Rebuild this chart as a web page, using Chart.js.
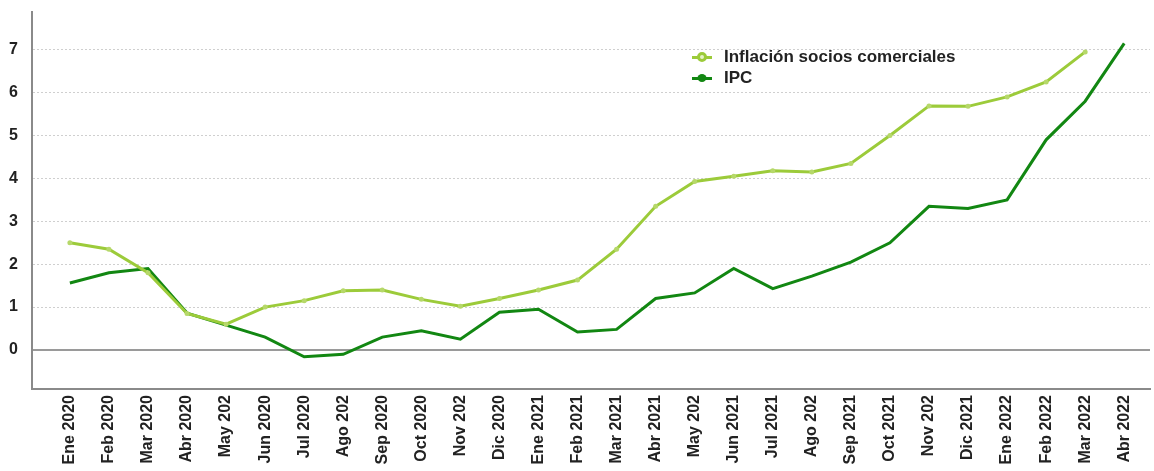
<!DOCTYPE html>
<html>
<head>
<meta charset="utf-8">
<script src="https://cdn.jsdelivr.net/npm/chart.js@4/dist/chart.umd.min.js"></script>
<style>
  html, body { margin: 0; padding: 0; background: #fff; }
  #wrap { position: relative; width: 1154px; height: 471px; }
  #legend { position: absolute; left: 692px; top: 46px; font: bold 17px "Liberation Sans", Arial, sans-serif; color: #222; }
  #legend .row { display: flex; align-items: center; height: 21px; }
  #legend .mk { position: relative; width: 20px; height: 12px; margin-right: 12px; }
  #legend .mk .ln { position: absolute; left: 0; right: 0; top: 5px; height: 3px; }
  #legend .mk .pt { position: absolute; left: 5px; top: 1px; width: 10px; height: 10px; border-radius: 50%; box-sizing: border-box; }
</style>
</head>
<body>
<div id="wrap">
  <canvas id="inflChart" width="1154" height="471"></canvas>
  <div id="legend"></div>
</div>
<script>
(function(){
  // months (labels as shown in the source, some are cut off)
  const months = [
    "Ene 2020","Feb 2020","Mar 2020","Abr 2020","May 202","Jun 2020","Jul 2020","Ago 202",
    "Sep 2020","Oct 2020","Nov 202","Dic 2020","Ene 2021","Feb 2021","Mar 2021","Abr 2021",
    "May 202","Jun 2021","Jul 2021","Ago 202","Sep 2021","Oct 2021","Nov 202","Dic 2021",
    "Ene 2022","Feb 2022","Mar 2022","Abr 2022"
  ];

  // Inflación socios comerciales (no value for Abr 2022)
  const socios = [2.5, 2.35, 1.8, 0.85, 0.6, 1.0, 1.15, 1.38, 1.4, 1.18, 1.02, 1.2, 1.4, 1.63,
    2.35, 3.35, 3.93, 4.05, 4.18, 4.15, 4.35, 5.0, 5.69, 5.68, 5.9, 6.25, 6.95, null];

  // IPC
  const ipc = [1.56, 1.8, 1.9, 0.86, 0.58, 0.3, -0.16, -0.1, 0.3, 0.45, 0.25, 0.88, 0.95, 0.42,
    0.48, 1.2, 1.33, 1.9, 1.43, 1.72, 2.05, 2.5, 3.35, 3.3, 3.5, 4.9, 5.8, 7.15];

  const yTicks = [0, 1, 2, 3, 4, 5, 6, 7];

  const lightGreen = "#9ccb3a";
  const darkGreen = "#128712";
  const font = "'Liberation Sans', Arial, sans-serif";

  const toPoints = (arr) => arr.map((v, i) => ({ x: i, y: v }));

  const ctx = document.getElementById("inflChart").getContext("2d");
  const chart = new Chart(ctx, {
    type: "line",
    data: {
      datasets: [
        {
          label: "Inflación socios comerciales",
          data: toPoints(socios),
          borderColor: lightGreen,
          backgroundColor: lightGreen,
          borderWidth: 3,
          pointRadius: 2.5,
          pointBackgroundColor: "#b6d86a",
          pointBorderWidth: 0,
          spanGaps: false
        },
        {
          label: "IPC",
          data: toPoints(ipc),
          borderColor: darkGreen,
          backgroundColor: darkGreen,
          borderWidth: 3,
          pointRadius: 0
        }
      ]
    },
    options: {
      responsive: false,
      animation: false,
      layout: { padding: { top: 12, right: 0, left: 0, bottom: 0 } },
      plugins: { legend: { display: false }, tooltip: { enabled: false } },
      scales: {
        x: {
          type: "linear",
          min: -0.97,
          max: 27.66,
          afterBuildTicks: (s) => { s.ticks = months.map((_, i) => ({ value: i })); },
          afterFit: (s) => { s.height = 82; s.paddingLeft = 0; s.paddingRight = 0; },
          grid: { display: false, drawTicks: false },
          border: { display: true, color: "#8a8a8a", width: 2 },
          ticks: {
            autoSkip: false,
            minRotation: 90,
            maxRotation: 90,
            padding: 6,
            color: "#222",
            font: { family: font, size: 16, weight: "bold" },
            callback: (v) => months[v]
          }
        },
        y: {
          min: -0.91,
          max: 7.88,
          afterBuildTicks: (s) => { s.ticks = yTicks.map(v => ({ value: v })); },
          afterFit: (s) => { s.width = 32; s.paddingTop = 0; s.paddingBottom = 0; },
          grid: {
            drawTicks: false,
            color: (c) => (c.tick && c.tick.value === 0) ? "#9a9a9a" : "#cfcfcf",
            lineWidth: (c) => (c.tick && c.tick.value === 0) ? 2 : 1
          },
          border: {
            display: true,
            color: "#8a8a8a",
            width: 2,
            dash: (c) => (c.tick && c.tick.value !== 0) ? [2, 2] : []
          },
          ticks: {
            padding: 14,
            color: "#222",
            font: { family: font, size: 16, weight: "bold" }
          }
        }
      }
    }
  });

  // legend built from the datasets
  const legendEl = document.getElementById("legend");
  chart.data.datasets.forEach((ds, i) => {
    const row = document.createElement("div");
    row.className = "row";
    const mk = document.createElement("span");
    mk.className = "mk";
    const ln = document.createElement("span");
    ln.className = "ln";
    ln.style.background = ds.borderColor;
    const pt = document.createElement("span");
    pt.className = "pt";
    if (i === 0) {
      pt.style.border = "3px solid " + ds.borderColor;
      pt.style.background = "#e6f2c8";
    } else {
      pt.style.background = ds.borderColor;
      pt.style.transform = "scale(0.9,0.8)";
    }
    mk.appendChild(ln);
    mk.appendChild(pt);
    const txt = document.createElement("span");
    txt.textContent = ds.label;
    row.appendChild(mk);
    row.appendChild(txt);
    legendEl.appendChild(row);
  });
})();
</script>
</body>
</html>
